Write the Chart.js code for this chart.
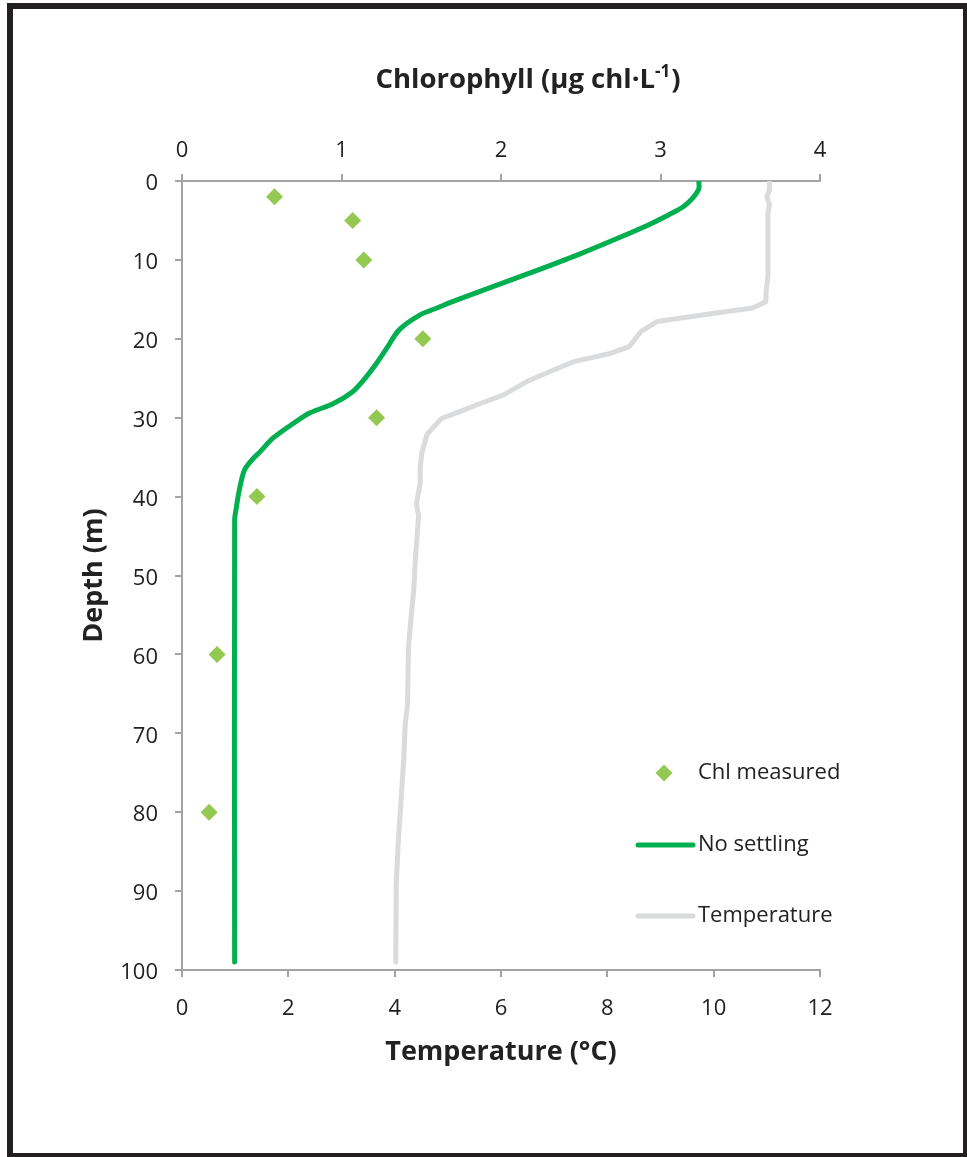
<!DOCTYPE html>
<html>
<head>
<meta charset="utf-8">
<title>Chlorophyll and temperature profile</title>
<script src="https://cdn.jsdelivr.net/npm/chart.js@4/dist/chart.umd.min.js"></script>
<style>
  html, body { margin: 0; padding: 0; background: #ffffff; }
  #wrap { position: relative; width: 967px; height: 1157px; overflow: hidden; }
  #frame {
    position: absolute; left: 7px; top: 3px; width: 962px; height: 1156px;
    box-sizing: border-box; border: 6px solid #231f20; pointer-events: none;
  }
  canvas { display: block; }
</style>
</head>
<body>
<div id="wrap">
  <canvas id="chart" width="967" height="1157"></canvas>
  <div id="frame"></div>
</div>
<script>
// Measured chlorophyll samples (depth in m, chlorophyll in µg chl/L)
const measuredDepth = [2, 5, 10, 20, 30, 40, 60, 80];
const measuredChl   = [0.58, 1.07, 1.14, 1.51, 1.22, 0.47, 0.22, 0.17];

// Modelled chlorophyll profile without settling
const modelDepth = [0, 1, 2.2, 3.3, 4.3, 5.6, 7.1, 9.2, 11.3, 13.0, 15.1, 16.0, 17.0, 18.9, 21.0,
                    23.1, 25.2, 26.7, 28.2, 29.4, 30.7, 32.6, 34.3, 35.3, 36.7, 39.6, 41.1, 43.0, 99];
const modelChl   = [3.24, 3.24, 3.20, 3.14, 3.05, 2.92, 2.75, 2.50, 2.23, 2.00, 1.72, 1.61, 1.49, 1.36, 1.29,
                    1.22, 1.14, 1.07, 0.95, 0.80, 0.70, 0.57, 0.49, 0.44, 0.39, 0.355, 0.343, 0.33, 0.33];

// Water temperature profile (°C)
const tempDepth = [0, 1.1, 2.0, 3.0, 4.1, 12.1, 13.8, 15.3, 16.1, 16.9, 17.8, 19.1, 21.0, 21.9, 22.9,
                   24.2, 25.4, 27.1, 28.2, 29.1, 30.1, 32.1, 34.5, 36.4, 38.3, 40.9, 42.5, 45.1, 48.0,
                   51.8, 55.2, 59.0, 66.6, 68.7, 73.4, 78.5, 83.5, 89.0, 99];
const tempValue = [11.05, 11.05, 11.0, 11.05, 11.02, 11.02, 10.99, 10.98, 10.73, 9.88, 8.94, 8.63, 8.41, 8.03, 7.37,
                   6.90, 6.49, 6.05, 5.61, 5.27, 4.88, 4.61, 4.51, 4.48, 4.48, 4.41, 4.45, 4.42, 4.39,
                   4.36, 4.31, 4.26, 4.24, 4.20, 4.17, 4.12, 4.07, 4.03, 4.02];

// Axis ranges and tick steps
const depthTicks = { min: 0, max: 100, step: 10 };
const chlTicks   = { min: 0, max: 4, step: 1 };
const tempTicks  = { min: 0, max: 12, step: 2 };

const seriesNames = ['Chl measured', 'No settling', 'Temperature'];

const FONT = "'Open Sans', 'Liberation Sans', sans-serif";
const TEXT = '#222222';
const AXIS = '#A3A3A3';

const toPoints = (xs, ys) => xs.map((x, i) => ({ x: x, y: ys[i] }));

// Custom legend placed inside the plot, plus the top axis title with a superscript
const decorations = {
  id: 'decorations',
  afterDraw(chart) {
    const ctx = chart.ctx;
    const ds = chart.data.datasets;
    ctx.save();

    // top title: Chlorophyll (µg chl·L^-1)
    const mainFont = "bold 27.5px " + FONT;
    const supFont = "bold 17px " + FONT;
    const partA = 'Chlorophyll (µg chl·L';
    const sup = '-1';
    const partB = ')';
    ctx.font = mainFont;
    const wA = ctx.measureText(partA).width;
    const wB = ctx.measureText(partB).width;
    ctx.font = supFont;
    const wS = ctx.measureText(sup).width;
    const total = wA + wS + wB + 1;
    let x = 528 - total / 2;
    const base = 88;
    ctx.fillStyle = TEXT;
    ctx.textBaseline = 'alphabetic';
    ctx.textAlign = 'left';
    ctx.font = mainFont;
    ctx.fillText(partA, x, base);
    x += wA;
    ctx.font = supFont;
    ctx.fillText(sup, x, base - 11);
    x += wS + 1;
    ctx.font = mainFont;
    ctx.fillText(partB, x, base);

    // legend
    const rows = [773, 845, 916];
    const symX = 664, lineX0 = 638, lineX1 = 693, textX = 698;
    ctx.font = "22px " + FONT;
    ctx.textBaseline = 'middle';
    ds.forEach((d, i) => {
      const y = rows[i];
      if (d.showLine) {
        ctx.strokeStyle = d.borderColor;
        ctx.lineWidth = d.borderWidth;
        ctx.lineCap = 'round';
        ctx.beginPath();
        ctx.moveTo(lineX0, y);
        ctx.lineTo(lineX1, y);
        ctx.stroke();
      } else {
        ctx.fillStyle = d.backgroundColor;
        Chart.helpers.drawPoint(ctx, { pointStyle: d.pointStyle, radius: d.pointRadius, borderWidth: 0 }, symX, y);
      }
      ctx.fillStyle = TEXT;
      ctx.fillText(d.label, textX, y);
    });
    ctx.restore();
  }
};

const tickFont = { family: FONT, size: 22 };
const titleFont = { family: FONT, size: 27, weight: 'bold' };
const gridCfg = { drawOnChartArea: false, drawTicks: true, tickLength: 7, color: AXIS, lineWidth: 2 };
const borderCfg = { color: AXIS, width: 2 };

new Chart(document.getElementById('chart'), {
  type: 'scatter',
  data: {
    datasets: [
      {
        label: seriesNames[0],
        data: toPoints(measuredChl, measuredDepth),
        xAxisID: 'xChl', yAxisID: 'y',
        showLine: false,
        pointStyle: 'rectRot', pointRadius: 8.5, pointHoverRadius: 8.5,
        backgroundColor: '#93C951', borderWidth: 0
      },
      {
        label: seriesNames[1],
        data: toPoints(modelChl, modelDepth),
        xAxisID: 'xChl', yAxisID: 'y',
        showLine: true, pointRadius: 0,
        borderColor: '#00B050', backgroundColor: '#00B050', borderWidth: 5,
        tension: 0.3, borderCapStyle: 'round', borderJoinStyle: 'round'
      },
      {
        label: seriesNames[2],
        data: toPoints(tempValue, tempDepth),
        xAxisID: 'xTemp', yAxisID: 'y',
        showLine: true, pointRadius: 0,
        borderColor: '#DADBDD', backgroundColor: '#DADBDD', borderWidth: 5,
        tension: 0, borderCapStyle: 'round', borderJoinStyle: 'round'
      }
    ]
  },
  options: {
    responsive: false,
    animation: false,
    devicePixelRatio: 1,
    layout: { padding: { left: 0, right: 147, top: 0, bottom: 0 } },
    plugins: { legend: { display: false }, tooltip: { enabled: false } },
    scales: {
      y: {
        type: 'linear', position: 'left', reverse: true,
        min: depthTicks.min, max: depthTicks.max,
        ticks: { stepSize: depthTicks.step, color: TEXT, font: tickFont, padding: 17, labelOffset: 3 },
        grid: gridCfg, border: borderCfg,
        title: { display: true, text: 'Depth (m)', color: TEXT, font: titleFont, padding: { top: 78, bottom: 0 } },
        afterFit: s => { s.width = 182; }
      },
      xChl: {
        type: 'linear', position: 'top',
        min: chlTicks.min, max: chlTicks.max,
        ticks: { stepSize: chlTicks.step, color: TEXT, font: tickFont, padding: 10 },
        grid: gridCfg, border: borderCfg,
        afterFit: s => { s.height = 181; }
      },
      xTemp: {
        type: 'linear', position: 'bottom',
        min: tempTicks.min, max: tempTicks.max,
        ticks: { stepSize: tempTicks.step, color: TEXT, font: tickFont, padding: 19 },
        grid: gridCfg, border: borderCfg,
        title: { display: true, text: 'Temperature (°C)', color: TEXT, font: titleFont, padding: { top: 0, bottom: 88 } },
        afterFit: s => { s.height = 187; }
      }
    }
  },
  plugins: [decorations]
});
</script>
</body>
</html>
